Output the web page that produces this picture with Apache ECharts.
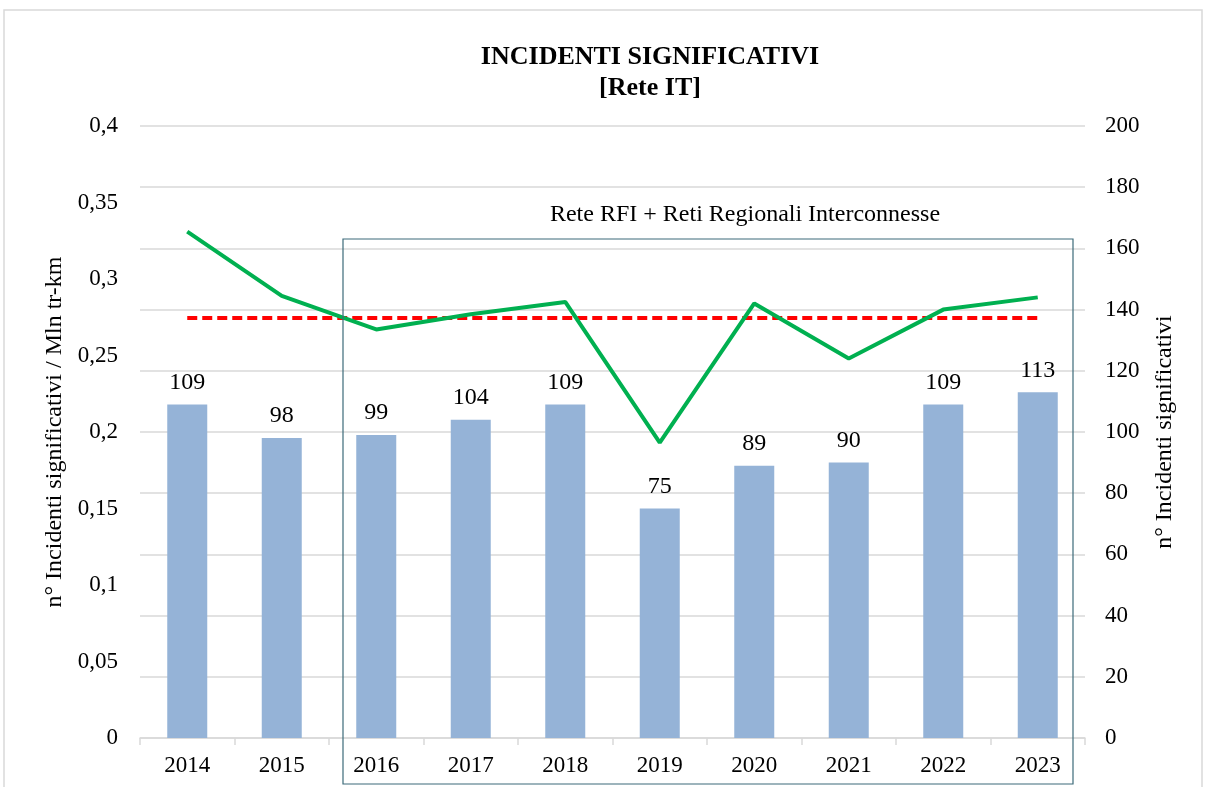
<!DOCTYPE html>
<html>
<head>
<meta charset="utf-8">
<script src="https://cdn.jsdelivr.net/npm/echarts@6/dist/echarts.min.js"></script>
<style>
html,body{margin:0;padding:0;background:#fff;}
#chart{width:1209px;height:787px;}
</style>
</head>
<body>
<div id="chart"></div>
<script>
const years = ['2014','2015','2016','2017','2018','2019','2020','2021','2022','2023'];
const incidents = [109, 98, 99, 104, 109, 75, 89, 90, 109, 113];
const ratePerMlnTrKm = [0.331, 0.289, 0.267, 0.277, 0.285, 0.193, 0.284, 0.248, 0.280, 0.288];
const averageRate = [0.2745, 0.2745, 0.2745, 0.2745, 0.2745, 0.2745, 0.2745, 0.2745, 0.2745, 0.2745];
const leftTicks = {min: 0, max: 0.4, interval: 0.05};
const rightTicks = {min: 0, max: 200, interval: 20};

const FONT = '"Liberation Serif", "Times New Roman", serif';
const chart = echarts.init(document.getElementById('chart'), null, {renderer: 'canvas'});
chart.setOption({
  animation: false,
  backgroundColor: '#fff',
  textStyle: {fontFamily: FONT},
  title: {
    text: 'INCIDENTI SIGNIFICATIVI\n[Rete IT]',
    left: 645, top: 37, textAlign: 'center',
    textStyle: {fontFamily: FONT, fontSize: 26, fontWeight: 'bold', color: '#000', lineHeight: 31}
  },
  grid: {left: 140, right: 124, top: 126, bottom: 49, containLabel: false},
  xAxis: {
    type: 'category', data: years, boundaryGap: true,
    axisLine: {lineStyle: {color: '#d9d9d9', width: 1.5}},
    axisTick: {show: true, length: 7, lineStyle: {color: '#d9d9d9', width: 1.5}},
    axisLabel: {fontFamily: FONT, fontSize: 23, color: '#000', margin: 16}
  },
  yAxis: [
    {
      type: 'value', position: 'left', min: leftTicks.min, max: leftTicks.max, interval: leftTicks.interval,
      name: 'n° Incidenti significativi / Mln tr-km', nameLocation: 'middle', nameGap: 60, nameRotate: 90,
      nameTextStyle: {fontFamily: FONT, fontSize: 24, color: '#000'},
      axisLine: {show: false}, axisTick: {show: false}, splitLine: {show: false},
      axisLabel: {fontFamily: FONT, fontSize: 23, color: '#000', margin: 22,
        formatter: v => String(Number(v.toFixed(2))).replace('.', ',')}
    },
    {
      type: 'value', position: 'right', min: rightTicks.min, max: rightTicks.max, interval: rightTicks.interval,
      name: 'n° Incidenti significativi', nameLocation: 'middle', nameGap: 68, nameRotate: 90,
      nameTextStyle: {fontFamily: FONT, fontSize: 24, color: '#000'},
      axisLine: {show: false}, axisTick: {show: false},
      splitLine: {show: true, lineStyle: {color: '#d9d9d9', width: 1.5}},
      axisLabel: {fontFamily: FONT, fontSize: 23, color: '#000', margin: 20}
    }
  ],
  series: [
    {
      type: 'bar', yAxisIndex: 1, data: incidents, barWidth: 40,
      itemStyle: {color: '#95b3d7'},
      label: {show: true, position: 'top', distance: 10, fontFamily: FONT, fontSize: 24, color: '#000'},
      z: 2
    },
    {
      type: 'line', yAxisIndex: 0, data: averageRate, symbol: 'none',
      lineStyle: {color: '#ff0000', width: 4, type: [10, 5]}, z: 3
    },
    {
      type: 'line', yAxisIndex: 0, data: ratePerMlnTrKm, symbol: 'none',
      lineStyle: {color: '#00b050', width: 4}, z: 4
    }
  ],
  graphic: [
    {type: 'rect', shape: {x: 4, y: 10, width: 1198, height: 790}, silent: true,
      style: {fill: 'none', stroke: '#d9d9d9', lineWidth: 1.5}, z: -1},
    {type: 'rect', shape: {x: 343, y: 239, width: 730, height: 545}, silent: true,
      style: {fill: 'none', stroke: '#3d6b7a', lineWidth: 1.2}, z: 10},
    {type: 'text', x: 745, y: 215, silent: true,
      style: {text: 'Rete RFI + Reti Regionali Interconnesse', font: '24px ' + FONT, fill: '#000',
        textAlign: 'center', textVerticalAlign: 'middle'}, z: 10}
  ]
});
</script>
</body>
</html>
